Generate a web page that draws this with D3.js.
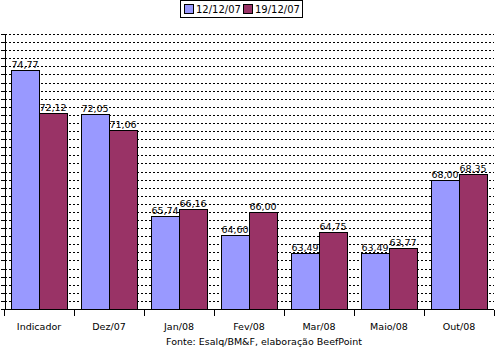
<!DOCTYPE html>
<html>
<head>
<meta charset="utf-8">
<style>
  body { margin: 0; background: #fff; }
  text { font-family: "DejaVu Sans", Verdana, sans-serif; fill: #000; }
  .grid line { stroke: #000; stroke-width: 1; stroke-dasharray: 2,2; shape-rendering: crispEdges; }
  .axis path, .axis line { stroke: #000; shape-rendering: crispEdges; }
</style>
</head>
<body>
<svg width="497" height="349"></svg>
<script src="https://cdn.jsdelivr.net/npm/d3@7"></script>
<script>
var categories = ["Indicador", "Dez/07", "Jan/08", "Fev/08", "Mar/08", "Maio/08", "Out/08"];
var seriesNames = ["12/12/07", "19/12/07"];
var week1 = [74.77, 72.05, 65.74, 64.60, 63.49, 63.49, 68.00];
var week2 = [72.12, 71.06, 66.16, 66.00, 64.75, 63.77, 68.35];
var colors = ["#9999ff", "#993366"];
var sourceText = "Fonte: Esalq/BM&F, elaboração BeefPoint";

var svg = d3.select("svg");
var plotL = 4, plotR = 494, plotT = 34, plotB = 309;

var x = d3.scaleBand().domain(categories).range([plotL, plotR])
    .paddingInner(0.2).paddingOuter(0.1);
var x1 = d3.scaleBand().domain(seriesNames).range([0, x.bandwidth()]);
var y = d3.scaleLinear().domain([60, 77]).range([plotB, plotT]);

var fmt = function (v) { return d3.format(".2f")(v).replace(".", ","); };

// dashed gridlines every 0.5
var ticks = d3.range(60.5, 77.01, 0.5);
svg.append("g").attr("class", "grid")
    .selectAll("line").data(ticks).enter().append("line")
    .attr("x1", plotL + 1).attr("x2", plotR)
    .attr("y1", function (d) { return Math.round(y(d)) + 0.5; })
    .attr("y2", function (d) { return Math.round(y(d)) + 0.5; });

// y axis with small ticks, no labels
svg.append("g").attr("class", "axis")
    .attr("transform", "translate(" + (plotL + 0.5) + ",0)")
    .call(d3.axisLeft(y).tickValues(d3.range(60, 77.01, 0.5)).tickSize(4).tickSizeOuter(0).tickFormat(""));

var data = categories.map(function (c, i) {
    return { cat: c, vals: [week1[i], week2[i]] };
});

var grp = svg.selectAll(".grp").data(data).enter().append("g")
    .attr("transform", function (d) { return "translate(" + x(d.cat) + ",0)"; });

grp.selectAll("rect").data(function (d) {
    return d.vals.map(function (v, j) { return { s: seriesNames[j], v: v, j: j }; });
}).enter().append("rect")
    .attr("x", function (d) { return Math.round(x1(d.s)) + 0.5; })
    .attr("y", function (d) { return Math.round(y(d.v)) + 0.5; })
    .attr("width", x1.bandwidth())
    .attr("height", function (d) { return plotB - Math.round(y(d.v)); })
    .attr("fill", function (d) { return colors[d.j]; })
    .attr("stroke", "#000").attr("stroke-width", 1);

grp.selectAll(".val").data(function (d) {
    return d.vals.map(function (v, j) { return { s: seriesNames[j], v: v }; });
}).enter().append("text")
    .attr("x", function (d) { return x1(d.s) + x1.bandwidth() / 2; })
    .attr("y", function (d) { return y(d.v) - 2; })
    .attr("text-anchor", "middle")
    .style("font-size", "9.5px")
    .text(function (d) { return fmt(d.v); });

// x axis
var xa = svg.append("g").attr("class", "axis")
    .attr("transform", "translate(0," + (plotB + 0.5) + ")");
xa.append("line").attr("x1", plotL).attr("x2", plotR);
xa.selectAll(".tk").data(d3.range(categories.length + 1)).enter().append("line")
    .attr("x1", function (i) { return Math.round(plotL + i * x.step()) + 0.5; })
    .attr("x2", function (i) { return Math.round(plotL + i * x.step()) + 0.5; })
    .attr("y1", 0).attr("y2", 6);
xa.selectAll(".lbl").data(categories).enter().append("text")
    .attr("x", function (d) { return x(d) + x.bandwidth() / 2; })
    .attr("y", 20)
    .attr("text-anchor", "middle")
    .style("font-size", "9.5px")
    .text(function (d) { return d; });

svg.append("text").attr("x", 166).attr("y", 345)
    .style("font-size", "9.5px").text(sourceText);

// legend
var lg = svg.append("g").attr("transform", "translate(180,0)");
lg.append("rect").attr("x", 0.5).attr("y", 0.5).attr("width", 122).attr("height", 17)
    .attr("fill", "#fff").attr("stroke", "#000");
seriesNames.forEach(function (s, i) {
    var ox = 4 + i * 59;
    lg.append("rect").attr("x", ox + 0.5).attr("y", 4.5).attr("width", 9).attr("height", 9)
        .attr("fill", colors[i]).attr("stroke", "#000");
    lg.append("text").attr("x", ox + 12).attr("y", 13)
        .style("font-size", "10px").text(s);
});
</script>
</body>
</html>
